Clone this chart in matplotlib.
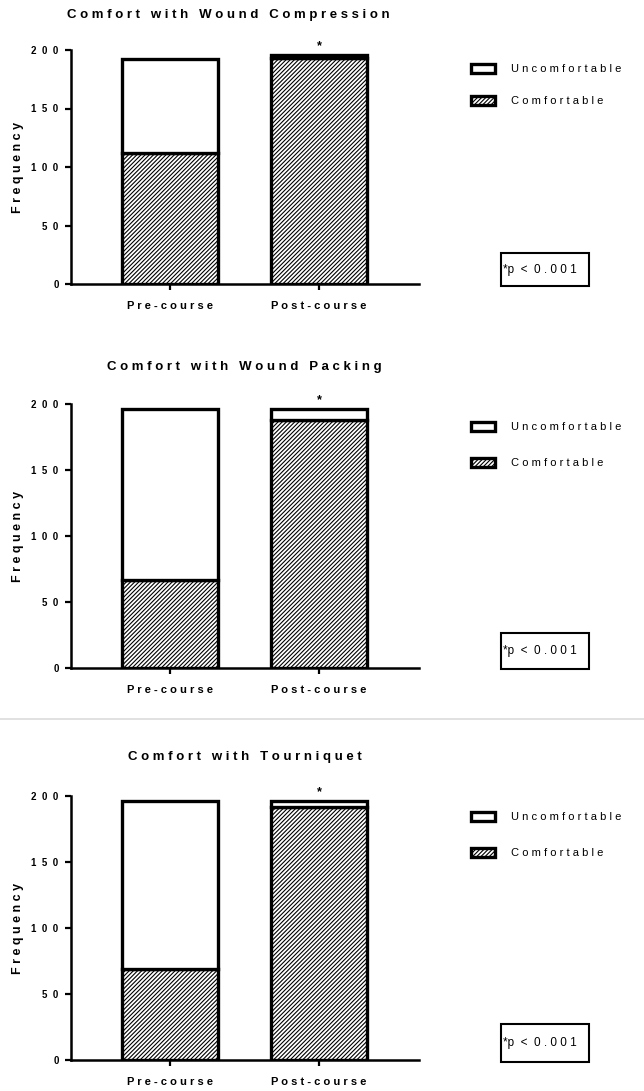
import matplotlib
matplotlib.use("Agg")
import matplotlib.pyplot as plt
from matplotlib.patches import Rectangle
from matplotlib.lines import Line2D

# survey counts, stacked: comfortable at the bottom, uncomfortable on top
categories = ["Pre-course", "Post-course"]
titles = ["Comfort with Wound Compression",
          "Comfort with Wound Packing",
          "Comfort with Tourniquet"]
comfortable = [[112, 193], [67, 188], [69, 192]]
uncomfortable = [[80, 3], [129, 8], [127, 4]]
yticks = [0, 50, 100, 150, 200]
p_note = "*p  <  0 . 0 0 1"

plt.rcParams["font.family"] = ["Liberation Sans", "DejaVu Sans"]
plt.rcParams["hatch.linewidth"] = 0.8


def spaced(s, gap=" "):
    # wide letter spacing like the GraphPad export
    return (gap * 3).join(gap.join(w) for w in s.split(" "))


W, H = 644, 1091
fig = plt.figure(figsize=(W / 100, H / 100), dpi=100)

# pixel layout of each panel: axis top/bottom, title x, legend rows, p-box
panels = [
    dict(top=50, bottom=284, title_x=228, title_y=15, leg_y=[69, 101], pbox=(253, 286)),
    dict(top=404, bottom=668, title_x=244, title_y=367, leg_y=[427, 463], pbox=(633, 669)),
    dict(top=796, bottom=1060, title_x=245, title_y=757, leg_y=[817, 853], pbox=(1024, 1062)),
]
ax_left, ax_right = 71, 419
x = [0, 1]

for i, lay in enumerate(panels):
    ax = fig.add_axes([ax_left / W, 1 - lay["bottom"] / H,
                       (ax_right - ax_left) / W, (lay["bottom"] - lay["top"]) / H])
    comf = ax.bar(x, comfortable[i], width=0.65, color="white", edgecolor="black",
                  hatch="////////", linewidth=2.4)
    unc = ax.bar(x, uncomfortable[i], bottom=comfortable[i], width=0.65,
                 color="white", edgecolor="black", linewidth=2.4)

    ax.set_xlim(-0.664, 1.671)
    ax.set_ylim(0, 200)
    ax.set_yticks(yticks)
    ax.set_yticklabels([spaced(str(t), "  ") for t in yticks], fontweight="bold", fontsize=7)
    ax.set_xticks(x)
    ax.set_xticklabels([spaced(c) for c in categories], fontweight="bold", fontsize=8)
    ax.tick_params(axis="both", direction="out", length=4, width=1.6)
    ax.tick_params(axis="x", pad=8)
    ax.tick_params(axis="y", pad=5)
    for side in ["top", "right"]:
        ax.spines[side].set_visible(False)
    for side in ["left", "bottom"]:
        ax.spines[side].set_linewidth(1.8)

    ax.set_ylabel(spaced("Frequency"), fontweight="bold", fontsize=9)
    ax.yaxis.set_label_coords(-(ax_left - 24) / (ax_right - ax_left), 0.5)

    fig.text(lay["title_x"] / W, 1 - lay["title_y"] / H, spaced(titles[i]),
             ha="center", va="center", fontweight="bold", fontsize=9.5)

    # significance star above the post-course bar
    total_post = comfortable[i][1] + uncomfortable[i][1]
    ax.annotate("*", xy=(1, total_post), xytext=(0, 2), textcoords="offset points",
                ha="center", va="bottom", fontsize=9, fontweight="bold")

    # legend
    row_gap = lay["leg_y"][1] - lay["leg_y"][0]
    ax.legend([unc, comf], [spaced("Uncomfortable"), spaced("Comfortable")],
              loc="upper left", bbox_to_anchor=(471 / W, 1 - (lay["leg_y"][0] - 5) / H),
              bbox_transform=fig.transFigure, frameon=False, borderpad=0,
              borderaxespad=0, handlelength=2.2, handleheight=0.9,
              handletextpad=1.4, labelspacing=(row_gap - 11) / 11,
              prop=dict(size=8))

    # p-value box
    y0, y1 = lay["pbox"]
    fig.add_artist(Rectangle((501 / W, 1 - y1 / H), 88 / W, (y1 - y0) / H,
                             transform=fig.transFigure, fill=False,
                             edgecolor="black", linewidth=1.5))
    fig.text(503 / W, 1 - (y0 + y1) / 2 / H, p_note,
             ha="left", va="center", fontsize=8.5)

# thin grey divider between the second and third panels
fig.add_artist(Line2D([0, 1], [1 - 719 / H] * 2, transform=fig.transFigure,
                      color="#dcdcdc", linewidth=1.2))

fig.savefig("out.png", dpi=100)
